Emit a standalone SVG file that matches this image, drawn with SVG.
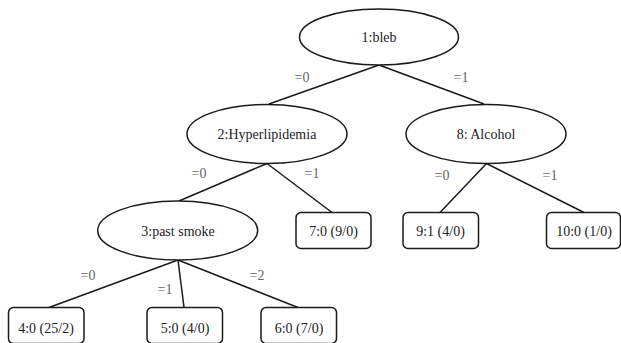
<svg xmlns="http://www.w3.org/2000/svg" width="621" height="343" viewBox="0 0 621 343">
<style>
.n{fill:#fff;stroke:#1a1a1a;stroke-width:1.5}
.t{font-family:"Liberation Serif","Times New Roman",serif;font-size:14px;fill:#222;text-anchor:middle}
.l{font-family:"Liberation Serif","Times New Roman",serif;font-size:14px;fill:#666;text-anchor:middle}
.e{stroke:#1a1a1a;stroke-width:1.5;fill:none}
</style>
<rect width="621" height="343" fill="#fff"/>
<g id="connectors">
<line class="e" x1="379" y1="65" x2="269" y2="104"/>
<line class="e" x1="379" y1="65" x2="484" y2="104"/>
<line class="e" x1="267" y1="163.5" x2="179" y2="201"/>
<line class="e" x1="267" y1="163.5" x2="332" y2="212.5"/>
<line class="e" x1="486.5" y1="163.5" x2="440" y2="212.5"/>
<line class="e" x1="486.5" y1="163.5" x2="584" y2="212.5"/>
<line class="e" x1="178" y1="260" x2="49" y2="307.5"/>
<line class="e" x1="178" y1="260" x2="184" y2="307.5"/>
<line class="e" x1="178" y1="260" x2="298" y2="307.5"/>
<text class="l" x="302" y="82">=0</text>
<text class="l" x="461" y="82">=1</text>
<text class="l" x="199" y="178">=0</text>
<text class="l" x="312" y="178">=1</text>
<text class="l" x="442" y="180">=0</text>
<text class="l" x="550" y="180">=1</text>
<text class="l" x="88" y="280">=0</text>
<text class="l" x="165" y="294">=1</text>
<text class="l" x="257" y="280">=2</text>
</g>
<g id="n1"><ellipse class="n" cx="379" cy="37" rx="79.5" ry="28"/><text class="t" x="379" y="42">1:bleb</text></g>
<g id="n2"><ellipse class="n" cx="267" cy="134" rx="80" ry="29.5"/><text class="t" x="267" y="139">2:Hyperlipidemia</text></g>
<g id="n8"><ellipse class="n" cx="486" cy="134" rx="80" ry="29.5"/><text class="t" x="486" y="139">8: Alcohol</text></g>
<g id="n3"><ellipse class="n" cx="177.7" cy="230.5" rx="80" ry="29.5"/><text class="t" x="178" y="235.5">3:past smoke</text></g>
<g id="n7"><rect class="n" x="296" y="212.5" width="75" height="36" rx="5"/><text class="t" x="333.5" y="235.5">7:0 (9/0)</text></g>
<g id="n9"><rect class="n" x="403" y="212.5" width="75.5" height="36" rx="5"/><text class="t" x="440.5" y="235.5">9:1 (4/0)</text></g>
<g id="n10"><rect class="n" x="546.5" y="212.5" width="74" height="36" rx="5"/><text class="t" x="584" y="235.5">10:0 (1/0)</text></g>
<g id="n4"><rect class="n" x="8.5" y="307.5" width="75.5" height="36" rx="5"/><text class="t" x="46" y="333">4:0 (25/2)</text></g>
<g id="n5"><rect class="n" x="147" y="307.5" width="75.5" height="36" rx="5"/><text class="t" x="185" y="333">5:0 (4/0)</text></g>
<g id="n6"><rect class="n" x="261" y="307.5" width="75.5" height="36" rx="5"/><text class="t" x="299" y="333">6:0 (7/0)</text></g>
</svg>
